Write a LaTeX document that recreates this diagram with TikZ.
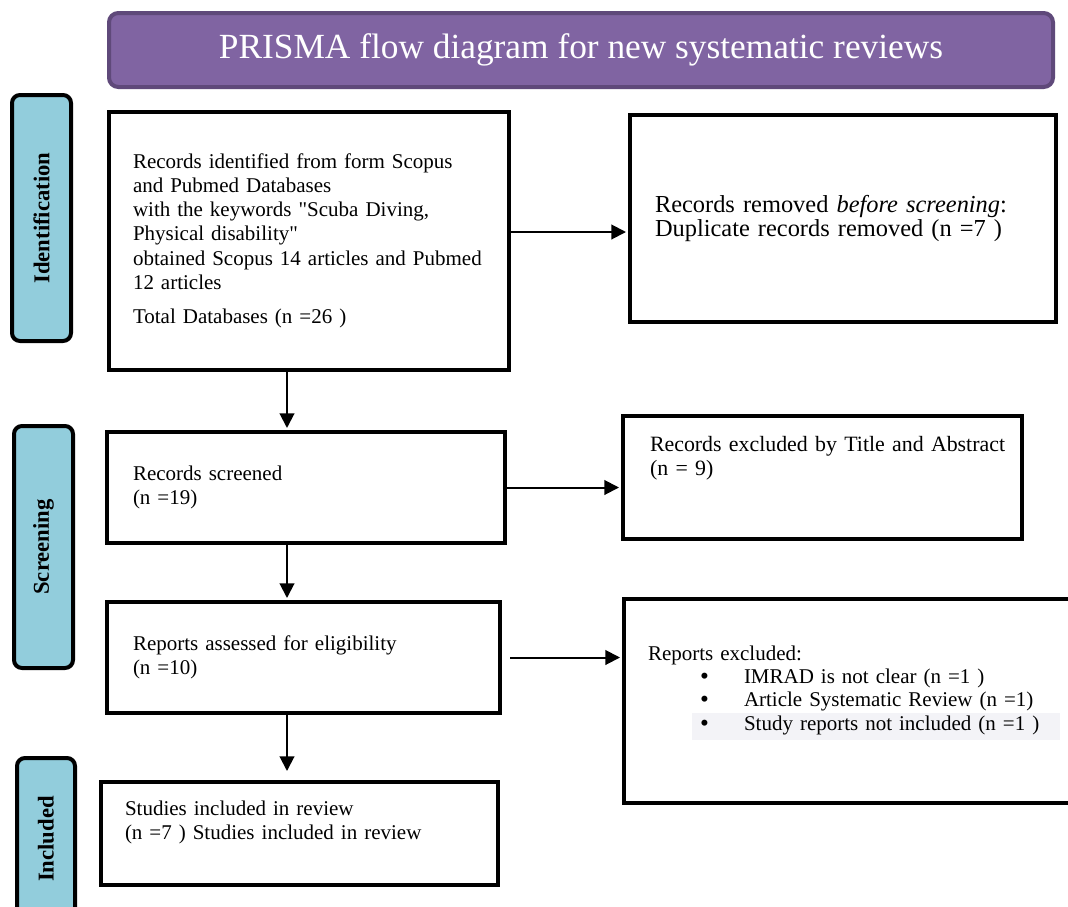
\documentclass[tikz,border=0pt]{standalone}
\usepackage{fontspec}
\usepackage{graphicx}
\setmainfont{Liberation Serif}[Ligatures=TeXOff]
\usetikzlibrary{positioning,arrows.meta}

\definecolor{prismapurple}{HTML}{8064A2}
\definecolor{prismaedge}{HTML}{5F497A}
\definecolor{stageblue}{HTML}{92CDDC}
\definecolor{markgray}{HTML}{F3F3F7}

\begin{document}
\begin{tikzpicture}[x=0.75pt, y=-0.75pt,
    titlebox/.style={draw=prismaedge, line width=3pt, fill=prismapurple, rounded corners=7pt,
        text=white, font=\fontsize{26.5pt}{30pt}\selectfont, inner sep=0pt},
    stagebox/.style={draw=black, line width=3pt, fill=stageblue, rounded corners=6pt,
        rotate=90, inner sep=0pt, font=\fontsize{17pt}{20pt}\selectfont\bfseries},
    flowbox/.style={draw=black, line width=3pt, inner sep=0pt, align=left,
        font=\fontsize{15.75pt}{18.2pt}\selectfont},
    flowarrow/.style={line width=1.5pt, -{Triangle[length=11pt,width=11pt]}, shorten >=1.5pt}]
    \newcommand{\gap}{\makebox[39pt][l]{}\makebox[33pt][l]{\smash{\raisebox{-0.6pt}{\scalebox{1.2}{\textbullet}}}}}
    \path[use as bounding box, fill=white] (0,0) rectangle (1068,907);

    % title bar
    \node[titlebox, minimum width=708pt, minimum height=55.5pt] (title) at (581,50)
        {PRISMA flow diagram for new systematic reviews};

    % stage labels
    \node[stagebox, minimum width=184.5pt, minimum height=44.25pt] (stident) at (41.5,218) {Identification};
    \node[stagebox, minimum width=181.5pt, minimum height=44.25pt] (stscreen) at (43.5,547) {Screening};
    \node[stagebox, minimum width=121.5pt, minimum height=43.5pt] (stincl) at (46,839) {Included};

    % left column
    \node[flowbox, minimum width=300pt, minimum height=193.5pt, text width=264pt] (idrec) at (309,241)
        {Records identified from form Scopus\\and Pubmed Databases\\with the keywords "Scuba Diving,\\Physical disability"\\obtained Scopus 14 articles and Pubmed\\12 articles\\[7pt]Total Databases (n =26 )\\[-14pt]\mbox{}};
    \node[flowbox, minimum width=298.5pt, minimum height=83.25pt, text width=259.5pt] (scr) at (306,487.5)
        {Records screened\\(n =19)};
    \node[flowbox, minimum width=294.75pt, minimum height=83.25pt, text width=255.75pt] (elig) at (303.5,657.5)
        {Reports assessed for eligibility\\(n =10)};
    \node[flowbox, minimum width=297.75pt, minimum height=77.25pt, text width=261.75pt] (incl) at (299.5,833.5)
        {Studies included in review\\(n =7 ) Studies included in review\\[2pt]\mbox{}};

    % right column
    \node[flowbox, minimum width=319.5pt, minimum height=155.25pt, text width=282pt,
        font=\fontsize{18.3pt}{18pt}\selectfont] (rem) at (843,218.5)
        {\mbox{Records removed \textit{before screening}:}\\\mbox{Duplicate records removed (n =7 )}};
    \node[flowbox, minimum width=299.25pt, minimum height=92.25pt, text width=258.75pt,
        font=\fontsize{16.4pt}{18.2pt}\selectfont] (exc1) at (822.5,477.5)
        {\mbox{Records excluded by Title and Abstract}\\(n = 9)\\[14pt]\mbox{}};
    \fill[markgray] (692,713) rectangle (1060,740);
    \node[flowbox, minimum width=342pt, minimum height=153pt, text width=306pt,
        font=\fontsize{15.75pt}{17.6pt}\selectfont] (exc2) at (852,701)
        {Reports excluded:\\\gap IMRAD is not clear (n =1 )\\\gap Article Systematic Review (n =1)\\\gap Study reports not included (n =1 )\\[2pt]\mbox{}};

    % connectors
    \coordinate (spine) at (287,0);
    \coordinate (idout) at ([yshift=6.75pt]idrec.east);
    \draw[flowarrow] (idout) -- (idout -| rem.west);
    \draw[flowarrow] (scr.east) -- (scr.east -| exc1.west);
    \draw[flowarrow, shorten <=6pt] (elig.east) -- (elig.east -| exc2.west);
    \draw[flowarrow] (spine |- idrec.south) -- (spine |- scr.north);
    \draw[flowarrow] (spine |- scr.south) -- (spine |- elig.north);
    \draw[flowarrow, shorten >=6.75pt] (spine |- elig.south) -- (spine |- incl.north);
\end{tikzpicture}
\end{document}
